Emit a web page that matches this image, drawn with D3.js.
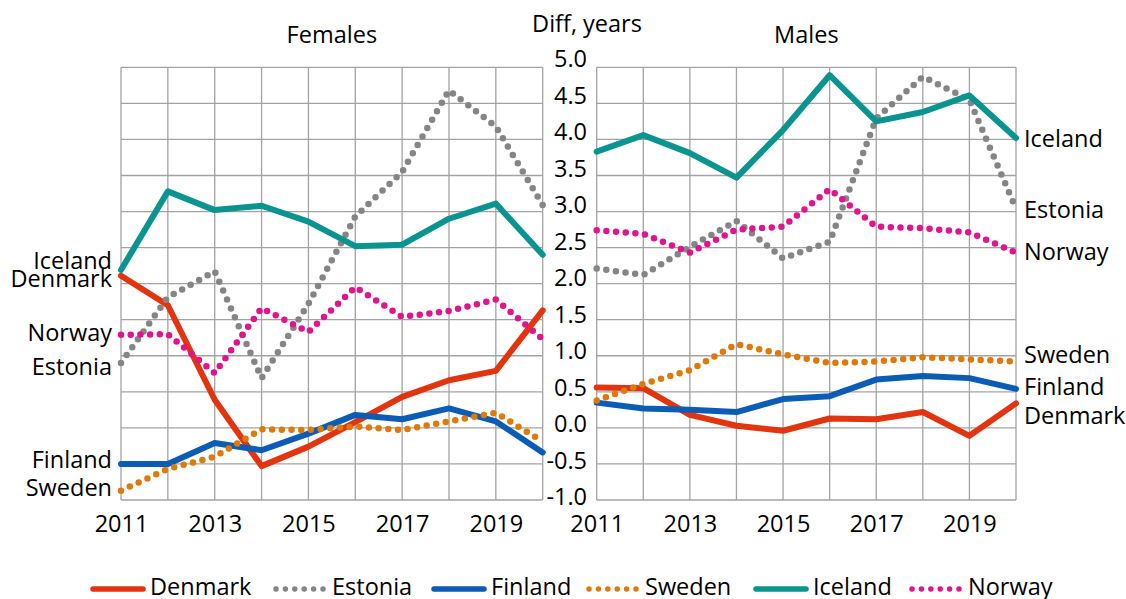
<!DOCTYPE html>
<html>
<head>
<meta charset="utf-8">
<script src="https://cdn.jsdelivr.net/npm/d3@7"></script>
<style>
  body { margin: 0; background: #fff; }
  text { font-family: "Open Sans", "Noto Sans", sans-serif; fill: #000; }
</style>
</head>
<body>
<script>
// years on the x axis
var years = [2011, 2012, 2013, 2014, 2015, 2016, 2017, 2018, 2019, 2020];
var yearTicks = [2011, 2013, 2015, 2017, 2019];
var yTicks = [-1.0, -0.5, 0.0, 0.5, 1.0, 1.5, 2.0, 2.5, 3.0, 3.5, 4.0, 4.5, 5.0];

// series (legend order)
var countries = ["Denmark", "Estonia", "Finland", "Sweden", "Iceland", "Norway"];

// females, diff in years
var femDenmark = [2.11, 1.70, 0.39, -0.53, -0.26, 0.08, 0.43, 0.66, 0.79, 1.63];
var femEstonia = [0.90, 1.81, 2.17, 0.69, 1.72, 2.93, 3.55, 4.68, 4.18, 3.09];
var femFinland = [-0.50, -0.50, -0.21, -0.31, -0.08, 0.18, 0.12, 0.27, 0.09, -0.34];
var femSweden  = [-0.87, -0.57, -0.40, -0.02, -0.03, 0.02, -0.03, 0.09, 0.21, -0.19];
var femIceland = [2.19, 3.28, 3.02, 3.08, 2.86, 2.52, 2.54, 2.90, 3.11, 2.40];
var femNorway  = [1.29, 1.30, 0.76, 1.66, 1.33, 1.95, 1.54, 1.62, 1.78, 1.23];

// males, diff in years
var malDenmark = [0.56, 0.55, 0.18, 0.03, -0.04, 0.13, 0.12, 0.22, -0.11, 0.34];
var malEstonia = [2.21, 2.12, 2.51, 2.87, 2.35, 2.58, 4.29, 4.87, 4.55, 3.04];
var malFinland = [0.35, 0.27, 0.25, 0.22, 0.40, 0.44, 0.67, 0.72, 0.69, 0.54];
var malSweden  = [0.38, 0.61, 0.80, 1.16, 1.02, 0.90, 0.92, 0.98, 0.95, 0.92];
var malIceland = [3.83, 4.06, 3.81, 3.47, 4.13, 4.89, 4.25, 4.38, 4.61, 4.02];
var malNorway  = [2.74, 2.69, 2.43, 2.75, 2.79, 3.31, 2.79, 2.77, 2.71, 2.43];

var femData = [femDenmark, femEstonia, femFinland, femSweden, femIceland, femNorway];
var malData = [malDenmark, malEstonia, malFinland, malSweden, malIceland, malNorway];

// styles
var colours = {
    Denmark: "#e33410", Estonia: "#858585", Finland: "#0b5cb5",
    Sweden: "#dc7a0b", Iceland: "#0a9490", Norway: "#e0148d"
};
var dotted = { Denmark: false, Estonia: true, Finland: false, Sweden: true, Iceland: false, Norway: true };

var width = 1126;
var height = 599;
var fontSize = 23.5;

var svg = d3.select("body")
            .append("svg")
            .attr("width", width)
            .attr("height", height);

// shared y scale
var yScale = d3.scaleLinear().domain([-1, 5]).range([500, 67.3]);
// tick labels sit a little higher than their gridlines
var yLabelScale = d3.scaleLinear().domain([-1, 5]).range([497, 59]);

var panels = [
    { title: "Females", x0: 121, x1: 542.7, data: femData, side: "left" },
    { title: "Males", x0: 596.7, x1: 1016, data: malData, side: "right" }
];

// small pixel nudges for the end labels
var nudge = {
    left:  { Denmark: 3, Estonia: 4, Finland: -4, Sweden: -3, Iceland: -9, Norway: -2 },
    right: { Denmark: 12, Estonia: 1, Finland: -2, Sweden: -7, Iceland: 1, Norway: -1 }
};

panels.forEach(function(p) {
    var xScale = d3.scaleLinear().domain([2011, 2020]).range([p.x0, p.x1]);
    var g = svg.append("g");

    // horizontal gridlines
    g.selectAll(".hgrid")
     .data(yTicks)
     .enter()
     .append("line")
     .attr("x1", p.x0).attr("x2", p.x1)
     .attr("y1", function(d){ return yScale(d); })
     .attr("y2", function(d){ return yScale(d); })
     .attr("stroke", "#a3a3a3")
     .attr("stroke-width", 1.3);

    // vertical gridlines
    g.selectAll(".vgrid")
     .data(years)
     .enter()
     .append("line")
     .attr("x1", function(d){ return xScale(d); })
     .attr("x2", function(d){ return xScale(d); })
     .attr("y1", yScale(5)).attr("y2", yScale(-1))
     .attr("stroke", "#a3a3a3")
     .attr("stroke-width", 1.3);

    // x labels
    var xAxis = d3.axisBottom(xScale)
                  .tickValues(yearTicks)
                  .tickFormat(d3.format("d"))
                  .tickSize(0)
                  .tickPadding(15);
    var ax = g.append("g")
              .attr("transform", "translate(0," + yScale(-1) + ")")
              .call(xAxis);
    ax.select(".domain").remove();
    ax.selectAll("text")
      .attr("font-size", fontSize)
      .attr("font-family", "'Open Sans', sans-serif")
      .attr("fill", "#000");

    // title
    g.append("text")
     .attr("x", (p.x0 + p.x1) / 2)
     .attr("y", 43)
     .attr("text-anchor", "middle")
     .attr("font-size", fontSize)
     .text(p.title);

    var line = d3.line()
                 .x(function(d, i){ return xScale(years[i]); })
                 .y(function(d){ return yScale(d); });

    countries.forEach(function(c, k) {
        var vals = p.data[k];
        var path = g.append("path")
                    .datum(vals)
                    .attr("d", line)
                    .attr("fill", "none")
                    .attr("stroke", colours[c])
                    .attr("stroke-linejoin", "round");
        if (dotted[c]) {
            path.attr("stroke-width", 6.5)
                .attr("stroke-linecap", "round")
                .attr("stroke-dasharray", "0 9.7");
        } else {
            path.attr("stroke-width", 6)
                .attr("stroke-linecap", "round");
        }

        // end labels
        var v = p.side === "left" ? vals[0] : vals[vals.length - 1];
        g.append("text")
         .attr("x", p.side === "left" ? p.x0 - 9 : p.x1 + 8)
         .attr("y", yScale(v) + nudge[p.side][c])
         .attr("dy", "0.35em")
         .attr("text-anchor", p.side === "left" ? "end" : "start")
         .attr("font-size", fontSize)
         .text(c);
    });
});

// y tick labels between panels
svg.selectAll(".ylab")
   .data(yTicks)
   .enter()
   .append("text")
   .attr("x", 587)
   .attr("y", function(d){ return yLabelScale(d); })
   .attr("dy", "0.35em")
   .attr("text-anchor", "end")
   .attr("font-size", fontSize)
   .text(function(d){ return d3.format(".1f")(d).replace("\u2212", "-"); });

svg.append("text")
   .attr("x", 587)
   .attr("y", 32)
   .attr("text-anchor", "middle")
   .attr("font-size", fontSize)
   .text("Diff, years");

// legend
var legendX = [91, 273, 432, 586, 754, 909];
var legendY = 589;
countries.forEach(function(c, k) {
    var lg = svg.append("g");
    var x = legendX[k];
    if (dotted[c]) {
        lg.append("line")
          .attr("x1", x + 3).attr("x2", x + 54)
          .attr("y1", legendY).attr("y2", legendY)
          .attr("stroke", colours[c])
          .attr("stroke-width", 5.5)
          .attr("stroke-linecap", "round")
          .attr("stroke-dasharray", "0 9.4");
    } else {
        lg.append("line")
          .attr("x1", x + 2).attr("x2", x + 52)
          .attr("y1", legendY).attr("y2", legendY)
          .attr("stroke", colours[c])
          .attr("stroke-width", 5.5)
          .attr("stroke-linecap", "round");
    }
    lg.append("text")
      .attr("x", x + 59)
      .attr("y", 595)
      .attr("font-size", fontSize)
      .text(c);
});
</script>
</body>
</html>
